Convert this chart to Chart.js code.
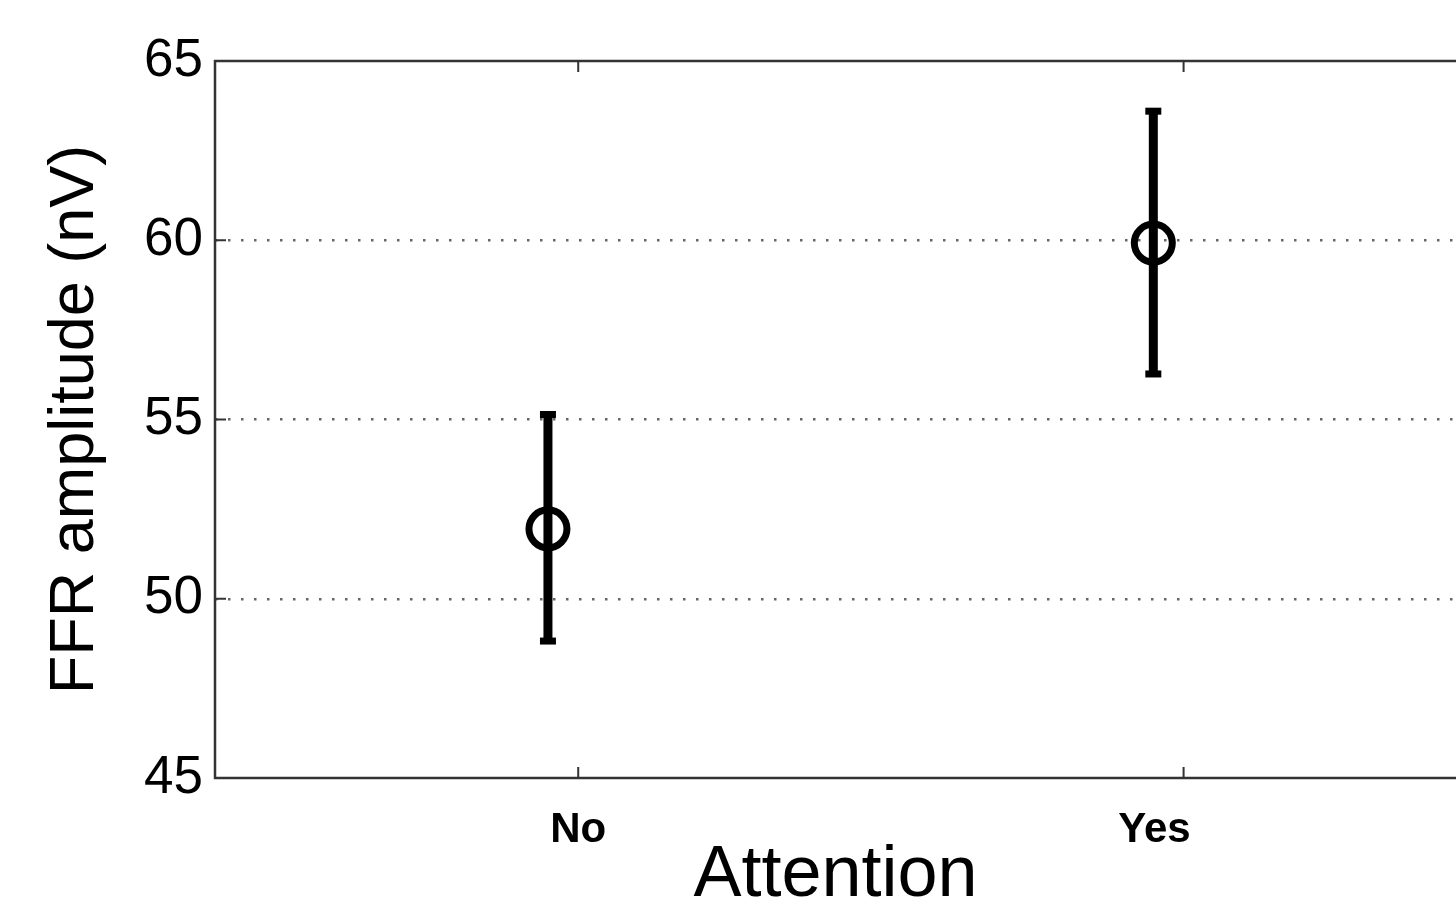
<!DOCTYPE html>
<html>
<head>
<meta charset="utf-8">
<script src="https://cdn.jsdelivr.net/npm/chart.js@4"></script>
<style>
  html, body { margin: 0; padding: 0; background: #fff; overflow: hidden; }
  #wrap { width: 1456px; height: 899px; }
</style>
</head>
<body>
<div id="wrap"><canvas id="ffr" width="1456" height="899"></canvas></div>
<script>
// values
const categories = ["No", "Yes"];
const categoryPos = [1, 2];
const markerX = [0.95, 1.95];
const means = [51.95, 59.92];
const lower = [48.82, 56.27];
const upper = [55.14, 63.6];
const yTicks = [45, 50, 55, 60, 65];

const ink = "#000";
const axisColor = "#333";

// one line dataset per error bar, caps drawn as 'line' point style
const errorSets = categories.map(function (c, i) {
  return {
    label: c + " error",
    data: [{ x: markerX[i], y: lower[i] }, { x: markerX[i], y: upper[i] }],
    showLine: true,
    borderColor: ink,
    borderWidth: 9,
    pointStyle: "line",
    pointRadius: 8,
    pointBorderWidth: 7,
    pointBorderColor: ink,
    pointHoverRadius: 8,
  };
});

const meanSet = {
  label: "mean",
  data: markerX.map(function (x, i) { return { x: x, y: means[i] }; }),
  showLine: false,
  pointStyle: "circle",
  pointRadius: 19,
  pointHoverRadius: 19,
  pointBorderWidth: 7,
  pointBorderColor: ink,
  pointBackgroundColor: "rgba(0,0,0,0)",
};

// box outline and inward ticks, positioned through the scales
const boxPlugin = {
  id: "box",
  afterDraw: function (chart) {
    const ctx = chart.ctx;
    const a = chart.chartArea;
    const xs = chart.scales.x;
    const ys = chart.scales.y;
    ctx.save();
    ctx.strokeStyle = axisColor;
    ctx.lineWidth = 2.5;
    ctx.beginPath();
    ctx.moveTo(a.right + 10, a.top);
    ctx.lineTo(a.left, a.top);
    ctx.lineTo(a.left, a.bottom);
    ctx.lineTo(a.right + 10, a.bottom);
    ctx.stroke();
    ctx.lineWidth = 2;
    categoryPos.forEach(function (v) {
      const px = xs.getPixelForValue(v);
      ctx.beginPath();
      ctx.moveTo(px, a.bottom);
      ctx.lineTo(px, a.bottom - 11);
      ctx.moveTo(px, a.top);
      ctx.lineTo(px, a.top + 11);
      ctx.stroke();
    });
    yTicks.forEach(function (v) {
      const py = ys.getPixelForValue(v);
      ctx.beginPath();
      ctx.moveTo(a.left, py);
      ctx.lineTo(a.left + 11, py);
      ctx.stroke();
    });
    ctx.restore();
  },
};

new Chart(document.getElementById("ffr").getContext("2d"), {
  type: "scatter",
  data: { datasets: errorSets.concat([meanSet]) },
  options: {
    responsive: false,
    animation: false,
    layout: { autoPadding: false, padding: { left: 0, right: 0, top: 61, bottom: 0 } },
    plugins: {
      legend: { display: false },
      tooltip: { enabled: false },
    },
    scales: {
      x: {
        type: "linear",
        min: 0.4,
        max: 2.45,
        afterBuildTicks: function (scale) {
          scale.ticks = categoryPos.map(function (v) { return { value: v }; });
        },
        afterFit: function (scale) { scale.height = 121; },
        grid: { display: false, drawTicks: false },
        border: { display: false },
        ticks: {
          color: ink,
          padding: 27,
          autoSkip: false,
          maxRotation: 0,
          font: { family: "'Liberation Sans', Arial, sans-serif", size: 42, weight: "bold" },
          callback: function (v) {
            const k = categoryPos.indexOf(v);
            if (k < 0) return "";
            // the original figure sets "Yes" slightly left of its tick
            return k === 1 ? categories[k] + "     " : categories[k];
          },
        },
        title: {
          display: true,
          text: "Attention",
          color: ink,
          padding: { top: 0, bottom: 0 },
          font: { family: "'Liberation Sans', Arial, sans-serif", size: 72, lineHeight: 0.64 },
        },
      },
      y: {
        min: 45,
        max: 65,
        afterBuildTicks: function (scale) {
          scale.ticks = yTicks.map(function (v) { return { value: v }; });
        },
        afterFit: function (scale) { scale.width = 215; },
        border: { display: false, dash: [2.5, 10.5] },
        grid: {
          drawTicks: false,
          lineWidth: 2.5,
          color: function (c) {
            const v = c.tick ? c.tick.value : null;
            return v === 45 || v === 65 ? "rgba(0,0,0,0)" : "#666";
          },
        },
        ticks: {
          color: ink,
          padding: 12,
          font: { family: "'Liberation Sans', Arial, sans-serif", size: 53 },
        },
        title: {
          display: true,
          text: "FFR amplitude (nV)",
          color: ink,
          padding: { top: 38, bottom: 0 },
          font: { family: "'Liberation Sans', Arial, sans-serif", size: 63, lineHeight: 1.2 },
        },
      },
    },
  },
  plugins: [boxPlugin],
});
</script>
</body>
</html>
